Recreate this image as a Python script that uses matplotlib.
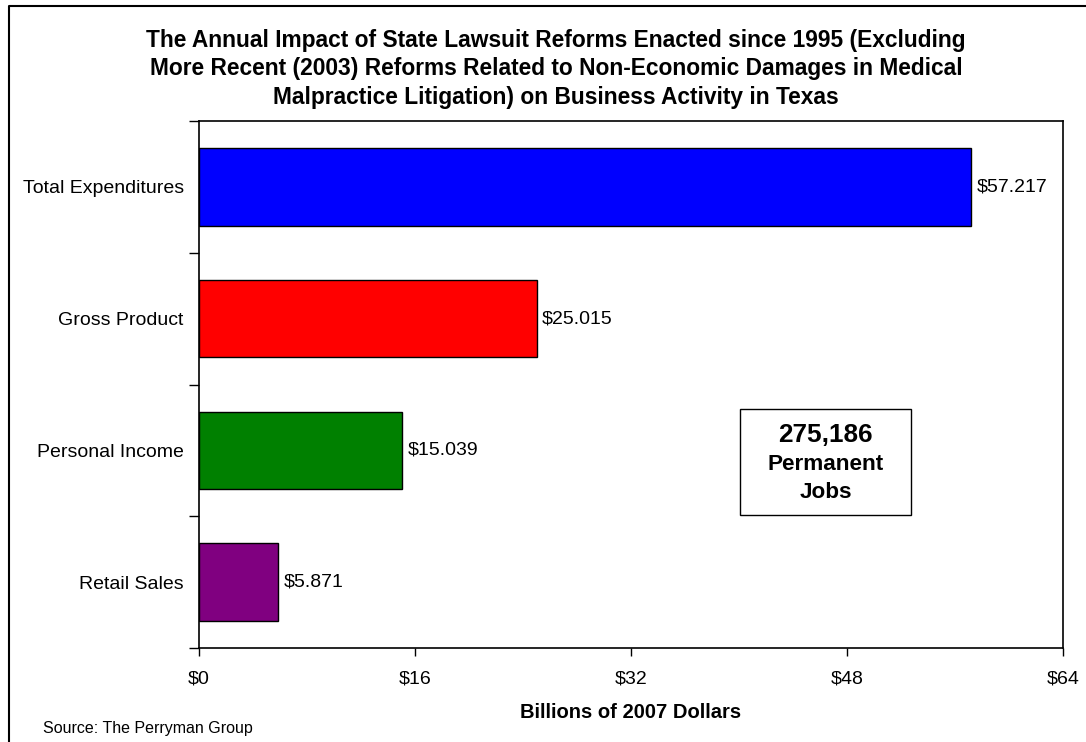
import matplotlib.pyplot as plt
from matplotlib.patches import Rectangle
from matplotlib.lines import Line2D

plt.rcParams['font.family'] = ['Liberation Sans', 'DejaVu Sans']

categories = ['Total Expenditures', 'Gross Product', 'Personal Income', 'Retail Sales']
values = [57.217, 25.015, 15.039, 5.871]
colors = ['#0000FF', '#FF0000', '#008000', '#800080']
xticks = [0, 16, 32, 48, 64]
jobs = '275,186'

title = ('The Annual Impact of State Lawsuit Reforms Enacted since 1995 (Excluding\n'
         'More Recent (2003) Reforms Related to Non-Economic Damages in Medical\n'
         'Malpractice Litigation) on Business Activity in Texas')

fig = plt.figure(figsize=(10.86, 7.42), dpi=100)
ax = fig.add_axes([199/1086, 1-648/742, 864/1086, 527/742])

ypos = list(range(len(categories)))
ax.barh(ypos, values, height=0.59, color=colors, edgecolor='black', linewidth=1)
for y, v in zip(ypos, values):
    ax.text(v + 0.4, y, '$%.3f' % v, va='center', ha='left', fontsize=14)

ax.set_xlim(0, 64)
ax.set_ylim(len(categories) - 0.5, -0.5)

ax.set_xticks(xticks)
ax.set_xticklabels(['$%d' % t for t in xticks], fontsize=14)
ax.tick_params(axis='x', length=6, width=1, pad=10, direction='out')

# tick marks between bars, labels on the bar centres
ax.set_yticks([y - 0.5 for y in range(len(categories) + 1)])
ax.set_yticklabels([])
ax.set_yticks(ypos, minor=True)
ax.set_yticklabels(categories, minor=True, fontsize=14)
ax.tick_params(axis='y', which='major', length=7, width=1, direction='out')
ax.tick_params(axis='y', which='minor', length=0, pad=11)

for s in ax.spines.values():
    s.set_linewidth(1.2)

ax.set_xlabel('Billions of 2007 Dollars', fontsize=14.5, fontweight='bold', labelpad=11)

fig.text(0.512, 1-69/742, title, ha='center', va='center', fontsize=16.4,
         fontweight='bold', linespacing=1.29)
fig.text(43/1086, 1-728/742, 'Source: The Perryman Group', fontsize=11.5, va='center')

# jobs box
ax.add_patch(Rectangle((0.626, 0.252), 0.198, 0.201, transform=ax.transAxes,
                       facecolor='white', edgecolor='black', linewidth=1))
cx = 0.626 + 0.099
ax.text(cx, 1-(435-121)/527, jobs, transform=ax.transAxes, ha='center', va='center',
        fontsize=18.8, fontweight='bold')
ax.text(cx, 1-(465-121)/527, 'Permanent', transform=ax.transAxes, ha='center', va='center',
        fontsize=16.2, fontweight='bold')
ax.text(cx, 1-(492-121)/527, 'Jobs', transform=ax.transAxes, ha='center', va='center',
        fontsize=16.2, fontweight='bold')

# chart frame (top and left edges)
fig.add_artist(Line2D([9/1086, 9/1086, 1.0], [0.0, 1-6/742, 1-6/742],
                      transform=fig.transFigure, color='black', linewidth=1.5))

fig.savefig('out.png', dpi=100)
